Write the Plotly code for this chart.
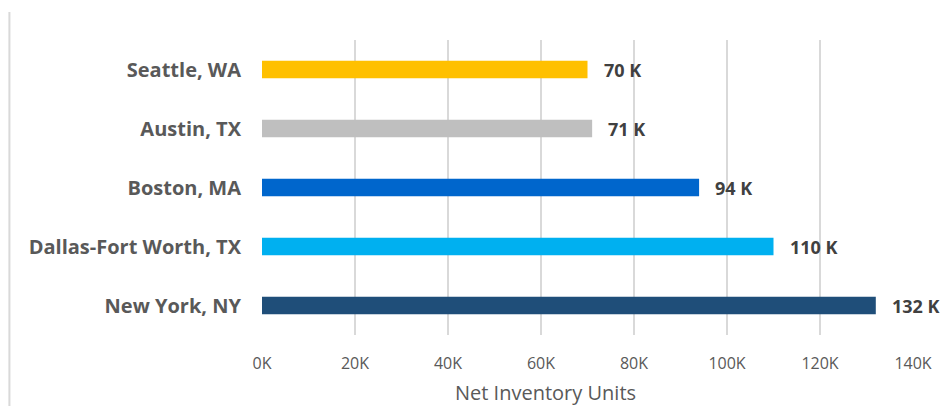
import plotly.graph_objects as go

# Net inventory by metro, top to bottom as displayed
metros = ["Seattle, WA", "Austin, TX", "Boston, MA", "Dallas-Fort Worth, TX", "New York, NY"]
units = [70000, 71000, 94000, 110000, 132000]
bar_colors = ["#FFC000", "#BFBFBF", "#0066CC", "#00B0F0", "#1F4E79"]
tick_vals = [0, 20000, 40000, 60000, 80000, 100000, 120000, 140000]
tick_text = ["0K", "20K", "40K", "60K", "80K", "100K", "120K", "140K"]

labels = [f"{round(v / 1000)} K" for v in units]

fig = go.Figure(
    go.Bar(
        x=units,
        y=metros,
        orientation="h",
        width=0.3,
        marker=dict(color=bar_colors, line=dict(width=0)),
        hoverinfo="skip",
    )
)

for m, v, t in zip(metros, units, labels):
    fig.add_annotation(
        x=v, y=m, text=t, showarrow=False, xanchor="left", xshift=14,
        font=dict(family="Open Sans", size=18, color="#404040", weight="bold"),
    )

fig.add_annotation(
    xref="paper", yref="paper", x=0.435, y=-0.195, yanchor="middle",
    text="Net Inventory Units", showarrow=False, borderpad=0,
    font=dict(family="Open Sans", size=20, color="#595959"),
)

# thin frame edge on the left side of the chart area
fig.add_shape(
    type="line", xref="paper", yref="paper",
    x0=-0.388, x1=-0.388, y0=-0.25, y1=1.095, line=dict(color="#D9D9D9", width=2),
)

fig.update_layout(
    width=948, height=406,
    margin=dict(l=262, r=35, t=40, b=71),
    paper_bgcolor="white", plot_bgcolor="white",
    showlegend=False,
    bargap=0.7,
    xaxis=dict(
        range=[0, 140000],
        tickvals=tick_vals, ticktext=tick_text,
        showgrid=True, gridcolor="#D9D9D9", gridwidth=2,
        zeroline=False, showline=False,
        ticklabelstandoff=17,
        tickfont=dict(family="Open Sans", size=16, color="#595959"),
        fixedrange=True,
    ),
    yaxis=dict(
        categoryorder="array", categoryarray=metros[::-1],
        showgrid=False, zeroline=False, showline=False,
        ticklabelstandoff=20,
        tickfont=dict(family="Open Sans", size=20, color="#595959", weight="bold"),
        fixedrange=True,
    ),
)

fig.write_html("out.html")
